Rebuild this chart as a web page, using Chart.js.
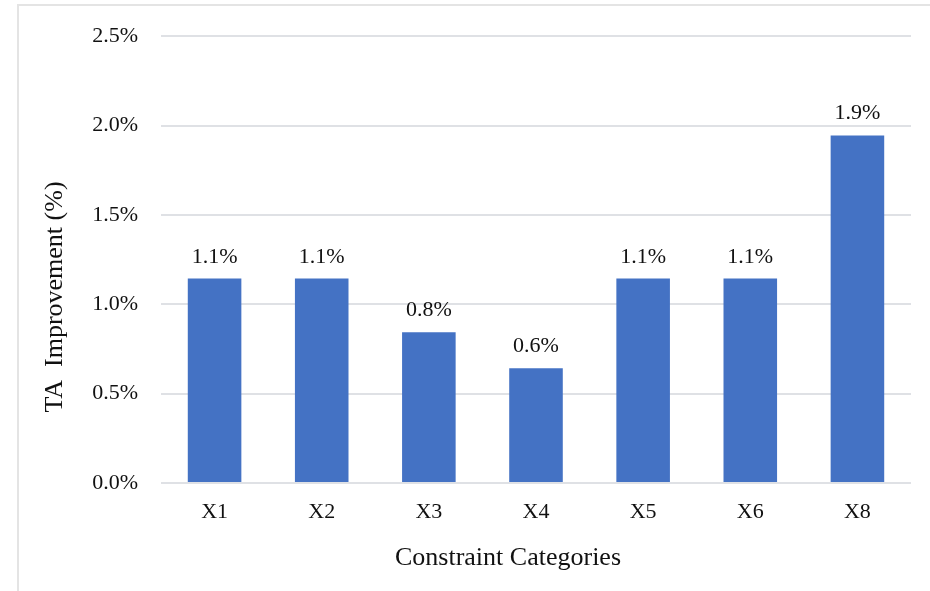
<!DOCTYPE html>
<html lang="en">
<head>
    <meta charset="UTF-8">
    <title>TA Improvement</title>
    <script src="https://cdn.jsdelivr.net/npm/chart.js"></script>
    <style>
        html, body { margin: 0; padding: 0; background: #fff; }
        #wrap { position: relative; width: 930px; height: 591px; }
        #frame {
            position: absolute; left: 17px; top: 4px; right: -2px; bottom: -2px;
            border-top: 2px solid #e4e4e4; border-left: 2px solid #e4e4e4;
            pointer-events: none;
        }
    </style>
</head>
<body>
<div id="wrap">
    <canvas id="myChart" width="930" height="591"></canvas>
    <div id="frame"></div>
</div>
<script>
    // data
    const categories = ['X1', 'X2', 'X3', 'X4', 'X5', 'X6', 'X8'];
    const improvement = [1.144, 1.144, 0.843, 0.642, 1.144, 1.144, 1.945];
    const yTicks = [0, 0.5, 1.0, 1.5, 2.0, 2.5];
    const xTitle = 'Constraint Categories';
    const yTitle = 'TA  Improvement (%)';

    const serif = '"Liberation Serif", "Times New Roman", serif';
    Chart.defaults.font.family = serif;
    Chart.defaults.color = '#111';

    // value labels above bars + the two axis titles
    const labelsPlugin = {
        id: 'labels',
        afterDatasetsDraw(chart) {
            const ctx = chart.ctx;
            const meta = chart.getDatasetMeta(0);
            ctx.save();
            ctx.font = '22px ' + serif;
            ctx.fillStyle = '#111';
            ctx.textAlign = 'center';
            ctx.textBaseline = 'alphabetic';
            meta.data.forEach((bar, i) => {
                ctx.fillText(improvement[i].toFixed(1) + '%', bar.x, bar.y - 16);
            });
            ctx.restore();
        },
        afterDraw(chart) {
            const ctx = chart.ctx;
            ctx.save();
            ctx.font = '26px ' + serif;
            ctx.fillStyle = '#111';
            ctx.textAlign = 'center';
            ctx.textBaseline = 'alphabetic';
            ctx.fillText(xTitle, 508, 565);
            ctx.translate(62, 297);
            ctx.rotate(-Math.PI / 2);
            ctx.fillText(yTitle, 0, 0);
            ctx.restore();
        }
    };

    new Chart(document.getElementById('myChart'), {
        type: 'bar',
        data: {
            labels: categories,
            datasets: [{
                data: improvement,
                backgroundColor: '#4472C4',
                borderWidth: 0,
                barPercentage: 0.5,
                categoryPercentage: 1.0
            }]
        },
        options: {
            responsive: false,
            animation: false,
            layout: { padding: { top: 34, right: 19, left: 0, bottom: 0 } },
            plugins: {
                legend: { display: false },
                tooltip: { enabled: false }
            },
            scales: {
                x: {
                    afterFit(scale) { scale.height = 108; },
                    grid: { display: false, drawTicks: false },
                    border: { display: false },
                    ticks: { font: { size: 22 }, padding: 16, color: '#111' }
                },
                y: {
                    min: 0,
                    max: 2.5,
                    afterFit(scale) { scale.width = 161; },
                    afterBuildTicks(scale) { scale.ticks = yTicks.map(v => ({ value: v })); },
                    grid: { color: '#dfe1e5', lineWidth: 2, drawTicks: false },
                    border: { display: false },
                    ticks: {
                        font: { size: 22 },
                        padding: 23,
                        color: '#111',
                        callback: v => v.toFixed(1) + '%'
                    }
                }
            }
        },
        plugins: [labelsPlugin]
    });
</script>
</body>
</html>
